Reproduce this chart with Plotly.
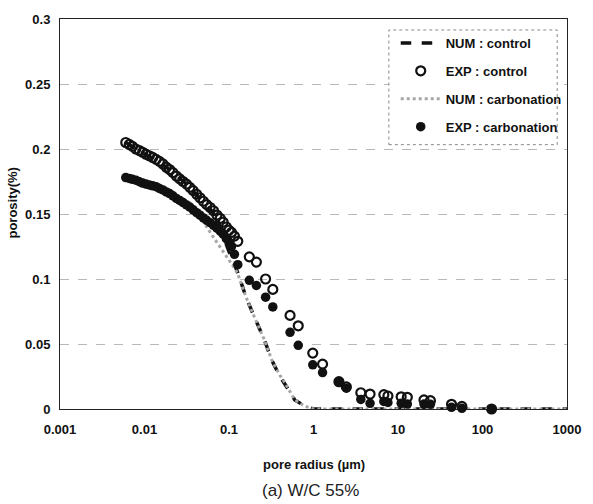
import plotly.graph_objects as go

# ---------------- data ----------------
exp_radius = [0.0060, 0.0066, 0.0072, 0.0079, 0.0087, 0.0095, 0.0104, 0.0114, 0.0125, 0.0137,
              0.0150, 0.0165, 0.0181, 0.0198, 0.0217, 0.0238, 0.0261, 0.0286, 0.0314, 0.0344,
              0.0377, 0.0414, 0.0454, 0.0497, 0.0545, 0.0598, 0.0656, 0.0719, 0.0788, 0.0854,
              0.093, 0.100, 0.107, 0.116, 0.127,
              0.174, 0.211, 0.271, 0.330, 0.528, 0.660, 0.980,
              1.28, 2.00, 2.45, 3.63, 4.67, 6.8, 7.6, 10.9, 12.9, 20.3,
              24.2, 43.0, 57.0, 128.0]
exp_control = [0.205, 0.2035, 0.202, 0.200, 0.1988, 0.1975, 0.196, 0.1948, 0.1935, 0.192,
               0.1905, 0.1885, 0.186, 0.1842, 0.1818, 0.1792, 0.177, 0.175, 0.173, 0.1705,
               0.168, 0.1652, 0.1625, 0.1598, 0.1572, 0.155, 0.1525, 0.1492, 0.1466, 0.1437,
               0.140, 0.1375, 0.1358, 0.133, 0.129,
               0.117, 0.113, 0.100, 0.092, 0.072, 0.064, 0.043,
               0.0345, 0.021, 0.017, 0.0125, 0.0115, 0.011, 0.010, 0.0094, 0.009, 0.007,
               0.0064, 0.0036, 0.002, 0.0]
exp_carbonation = [0.178, 0.1774, 0.1767, 0.176, 0.1748, 0.1738, 0.173, 0.1723, 0.1717, 0.171,
                   0.1697, 0.1685, 0.167, 0.1657, 0.164, 0.162, 0.1604, 0.1588, 0.157, 0.1553,
                   0.1532, 0.151, 0.1491, 0.147, 0.1451, 0.1433, 0.1413, 0.1391, 0.1368, 0.1345,
                   0.131, 0.128, 0.125, 0.119, 0.111,
                   0.099, 0.095, 0.086, 0.0785, 0.059, 0.049, 0.034,
                   0.028, 0.021, 0.016, 0.0074, 0.0044, 0.0058, 0.005, 0.0044, 0.0038, 0.0038,
                   0.0036, 0.0013, 0.0005, 0.0]

num_control_radius = [0.0060, 0.0080, 0.0100, 0.015, 0.020, 0.030, 0.040, 0.050, 0.060, 0.070,
                      0.080, 0.090, 0.100, 0.127, 0.159, 0.199, 0.259, 0.324, 0.40, 0.46,
                      0.60, 0.80, 1.0, 1000.0]
num_control = [0.205, 0.200, 0.196, 0.190, 0.184, 0.174, 0.166, 0.159, 0.154, 0.148,
               0.139, 0.129, 0.121, 0.105, 0.086, 0.071, 0.054, 0.037, 0.025, 0.019,
               0.007, 0.002, 0.0, 0.0]

num_carb_radius = [0.0060, 0.0080, 0.0100, 0.0130, 0.0225, 0.0366, 0.050, 0.0625, 0.080, 0.100,
                   0.120, 0.127, 0.159, 0.199, 0.259, 0.324, 0.40, 0.46, 0.60, 0.80,
                   1.0, 1000.0]
num_carbonation = [0.179, 0.177, 0.175, 0.173, 0.164, 0.154, 0.144, 0.134, 0.124, 0.115,
                   0.107, 0.104, 0.086, 0.071, 0.054, 0.037, 0.026, 0.020, 0.007, 0.002,
                   0.0, 0.0]

x_tickvals = [0.001, 0.01, 0.1, 1, 10, 100, 1000]
x_ticktext = ["0.001", "0.01", "0.1", "1", "10", "100", "1000"]
y_tickvals = [0, 0.05, 0.1, 0.15, 0.2, 0.25, 0.3]
y_ticktext = ["0", "0.05", "0.1", "0.15", "0.2", "0.25", "0.3"]

series_names = ["NUM : control", "EXP : control", "NUM : carbonation", "EXP : carbonation"]

FONT = "Liberation Sans Narrow, Arial Narrow, Liberation Sans, Arial, sans-serif"

fig = go.Figure()
fig.add_trace(go.Scatter(x=num_control_radius, y=num_control, mode="lines", name=series_names[0],
                         line=dict(color="#111111", width=3.5, dash="dash"), cliponaxis=False,
                         legendgroup="a"))
fig.add_trace(go.Scatter(x=exp_radius, y=exp_control, mode="markers", name=series_names[1],
                         marker=dict(symbol="circle-open", size=9, color="#111111",
                                     line=dict(width=2.2, color="#111111")),
                         cliponaxis=False, legendgroup="b"))
fig.add_trace(go.Scatter(x=num_carb_radius, y=num_carbonation, mode="lines", name=series_names[2],
                         line=dict(color="#a6a6a6", width=3, dash="dot"), cliponaxis=False,
                         legendgroup="c"))
fig.add_trace(go.Scatter(x=exp_radius, y=exp_carbonation, mode="markers", name=series_names[3],
                         marker=dict(symbol="circle", size=9.5, color="#111111"),
                         cliponaxis=False, legendgroup="d"))

L, R, T, B = 60, 15, 18, 95
W, H = 593, 504
pw, ph = W - L - R, H - T - B

def px_x(p):
    return (p - L) / pw

def px_y(p):
    return (H - B - p) / ph

fig.update_layout(
    width=W, height=H,
    margin=dict(l=L, r=R, t=T, b=B),
    paper_bgcolor="white", plot_bgcolor="white",
    font=dict(family=FONT, color="#111111"),
    showlegend=True,
    legend=dict(x=px_x(403), y=px_y(27), xanchor="left", yanchor="top",
                bgcolor="rgba(0,0,0,0)", borderwidth=0,
                font=dict(family=FONT, size=13, color="#111111", weight="bold"),
                traceorder="grouped", tracegroupgap=8, itemwidth=40),
    xaxis=dict(type="log", range=[-3, 3], tickvals=x_tickvals, ticktext=x_ticktext,
               showgrid=False, zeroline=False, showline=True, mirror=True,
               linecolor="#222222", linewidth=1, ticks="", layer="below traces",
               ticklabelstandoff=8,
               tickfont=dict(family=FONT, size=13, weight="bold", color="#111111")),
    yaxis=dict(range=[0, 0.3], tickvals=y_tickvals, ticktext=y_ticktext,
               showgrid=True, gridcolor="#b8b8b8", gridwidth=1, griddash="dash",
               zeroline=False, showline=True, mirror=True,
               linecolor="#222222", linewidth=1, ticks="", layer="below traces",
               ticklabelstandoff=6,
               tickfont=dict(family=FONT, size=13, weight="bold", color="#111111")),
    shapes=[dict(type="rect", xref="paper", yref="paper",
                 x0=px_x(396), x1=px_x(568), y0=px_y(144), y1=px_y(29),
                 line=dict(color="#888888", width=1, dash="dot"),
                 fillcolor="white", layer="above")],
    annotations=[
        dict(text="<b>pore radius (µm)</b>", xref="paper", yref="paper",
             x=px_x(320), y=px_y(465), xanchor="center", yanchor="middle",
             showarrow=False, font=dict(family=FONT, size=13, color="#111111")),
        dict(text="(a) W/C 55%", xref="paper", yref="paper",
             x=px_x(316), y=px_y(491), xanchor="center", yanchor="middle",
             showarrow=False, font=dict(family="Liberation Sans, Arial, sans-serif",
                                        size=17, color="#222222")),
        dict(text="<b>porosity(%)</b>", xref="paper", yref="paper",
             x=px_x(12), y=px_y(202), xanchor="center", yanchor="middle", textangle=-90,
             showarrow=False, font=dict(family=FONT, size=13, color="#111111")),
    ],
)

fig.write_html("out.html")
